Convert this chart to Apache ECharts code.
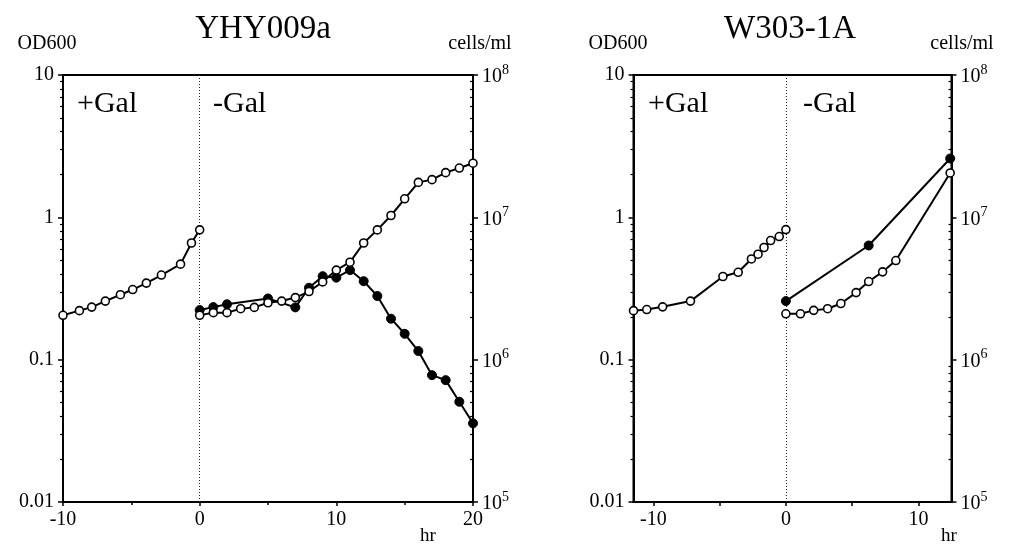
<!DOCTYPE html>
<html><head><meta charset="utf-8">
<script src="https://cdn.jsdelivr.net/npm/echarts@6/dist/echarts.min.js"></script>
<style>html,body{margin:0;padding:0;background:#fff}#c{width:1013px;height:544px}</style>
</head><body><div id="c"></div>
<script>
// ---- data: YHY009a ----
const yhyPreHr   = [-10, -8.8, -7.9, -6.9, -5.8, -4.9, -3.9, -2.8, -1.4, -0.6, 0];
const yhyPreOD   = [0.205, 0.221, 0.234, 0.258, 0.286, 0.311, 0.345, 0.393, 0.469, 0.66, 0.817];
const yhyOpenHr  = [0, 1, 2, 3, 4, 5, 6, 7, 8, 9, 10, 11, 12, 13, 14, 15, 16, 17, 18, 19, 20];
const yhyOpenOD  = [0.205, 0.214, 0.214, 0.228, 0.233, 0.251, 0.258, 0.273, 0.301, 0.352, 0.426, 0.484, 0.66, 0.816, 1.03, 1.35, 1.76, 1.84, 2.06, 2.22, 2.40];
const yhyFilledHr = [0, 1, 2, 5, 7, 8, 9, 10, 11, 12, 13, 14, 15, 16, 17, 18, 19, 20];
const yhyFilledOD = [0.223, 0.234, 0.245, 0.269, 0.233, 0.32, 0.386, 0.377, 0.426, 0.356, 0.28, 0.194, 0.152, 0.115, 0.0778, 0.0718, 0.0506, 0.0357];
// ---- data: W303-1A ----
const wPreHr    = [-11.5, -10.5, -9.3, -7.2, -4.75, -3.6, -2.6, -2.1, -1.65, -1.15, -0.5, 0];
const wPreOD    = [0.221, 0.225, 0.235, 0.258, 0.384, 0.411, 0.510, 0.551, 0.614, 0.687, 0.733, 0.82];
const wOpenHr   = [0, 1.1, 2.1, 3.15, 4.15, 5.3, 6.25, 7.3, 8.3, 12.4];
const wOpenOD   = [0.210, 0.210, 0.222, 0.228, 0.248, 0.296, 0.354, 0.414, 0.497, 2.05];
const wFilledHr = [0, 6.25, 12.4];
const wFilledOD = [0.258, 0.634, 2.59];
// ---- ticks ----
const odTicks  = [0.01, 0.1, 1, 10];
const odLabels = ['0.01', '0.1', '1', '10'];
const odMinor  = [0.02,0.03,0.04,0.05,0.06,0.07,0.08,0.09,0.2,0.3,0.4,0.5,0.6,0.7,0.8,0.9,2,3,4,5,6,7,8,9];
const cellTicks = [1e5, 1e6, 1e7, 1e8];
const cellExp   = ['5', '6', '7', '8'];
const yhyHrTicks = [-10, 0, 10, 20];
const wHrTicks   = [-10, 0, 10];
const wHrMinor   = [-10, -5, 0, 5, 10];
const shiftHr    = 0;

const FONT = 'Liberation Serif';
const zip = (a, b) => a.map((v, i) => [v, b[i]]);
const near = (arr, v) => arr.findIndex(t => Math.abs(Math.log10(t) - Math.log10(v)) < 1e-6);

function xAxisLeft() {
  return { type: 'value', gridIndex: 0, min: -10, max: 20, interval: 10,
    axisLine: { onZero: false, lineStyle: { color: '#000', width: 2 } },
    axisTick: { length: 4, lineStyle: { color: '#000', width: 1.5 } },
    minorTick: { show: true, splitNumber: 2, length: 3, lineStyle: { color: '#000', width: 1.5 } },
    axisLabel: { fontFamily: FONT, fontSize: 20, color: '#000', margin: 8,
      customValues: yhyHrTicks },
    splitLine: { show: false } };
}
function xAxisRight() {
  return { type: 'value', gridIndex: 1, min: -11.5, max: 12.5,
    axisLine: { onZero: false, lineStyle: { color: '#000', width: 2 } },
    axisTick: { length: 4, customValues: wHrMinor, lineStyle: { color: '#000', width: 1.5 } },
    axisLabel: { fontFamily: FONT, fontSize: 20, color: '#000', margin: 8, customValues: wHrTicks },
    splitLine: { show: false } };
}
function yAxes(g) {
  const base = { type: 'log', logBase: 10, gridIndex: g, splitLine: { show: false } };
  return [
    Object.assign({}, base, { position: 'left', min: 0.01, max: 10,
      axisLine: { show: true, onZero: false, lineStyle: { color: '#000', width: 2 } },
      axisTick: { show: true, length: 5, customValues: odTicks, lineStyle: { color: '#000', width: 1.5 } },
      axisLabel: { fontFamily: FONT, fontSize: 20, color: '#000', margin: 9, customValues: odTicks,
        formatter: v => odLabels[near(odTicks, v)] } }),
    Object.assign({}, base, { position: 'left', min: 0.01, max: 10,
      axisLine: { show: false, onZero: false },
      axisTick: { show: true, length: 3, customValues: odMinor, lineStyle: { color: '#000', width: 1.2 } },
      axisLabel: { show: false } }),
    Object.assign({}, base, { position: 'right', min: 1e5, max: 1e8,
      axisLine: { show: true, onZero: false, lineStyle: { color: '#000', width: 2 } },
      axisTick: { show: true, length: 5, customValues: cellTicks, lineStyle: { color: '#000', width: 1.5 } },
      axisLabel: { margin: 9, customValues: cellTicks,
        formatter: v => '{b|10}{s|' + cellExp[near(cellTicks, v)] + '}',
        rich: { b: { fontFamily: FONT, fontSize: 20, color: '#000', verticalAlign: 'bottom' },
                s: { fontFamily: FONT, fontSize: 14, color: '#000', verticalAlign: 'bottom', padding: [0, 0, 10, 0] } } } }),
    Object.assign({}, base, { position: 'right', min: 0.01, max: 10,
      axisLine: { show: false, onZero: false },
      axisTick: { show: true, inside: true, length: 3, customValues: odMinor, lineStyle: { color: '#000', width: 1.2 } },
      axisLabel: { show: false } })
  ];
}
function lineSeries(xi, yi, data, filled) {
  return { type: 'line', xAxisIndex: xi, yAxisIndex: yi, data: data, z: 3,
    symbol: 'circle', symbolSize: filled ? 9 : 8,
    lineStyle: { color: '#000', width: 2 },
    itemStyle: filled ? { color: '#000', borderColor: '#000', borderWidth: 1 }
                      : { color: '#fff', borderColor: '#000', borderWidth: 1.6 },
    silent: true, animation: false };
}
function shiftLine(xi, yi) {
  return { type: 'line', xAxisIndex: xi, yAxisIndex: yi, data: [], z: 1, silent: true,
    markLine: { silent: true, symbol: 'none', label: { show: false }, z: 1,
      lineStyle: { color: '#222', type: [1, 2], width: 1 }, data: [{ xAxis: shiftHr }] } };
}

function txt(text, x, y, size, align) {
  return { type: 'text', x: x, y: y, silent: true, style: { text: text, fill: '#000',
    font: size + 'px "' + FONT + '"', textAlign: align || 'center', align: align || 'center',
    textVerticalAlign: 'middle', verticalAlign: 'middle' } };
}

const chart = echarts.init(document.getElementById('c'), null, { renderer: 'canvas' });
chart.setOption({
  backgroundColor: '#fff',
  animation: false,
  grid: [
    { left: 63, top: 75, width: 410, height: 427, show: true, borderColor: '#000', borderWidth: 2 },
    { left: 633.5, top: 75, width: 318, height: 427, show: true, borderColor: '#000', borderWidth: 2 }
  ],
  xAxis: [xAxisLeft(), xAxisRight()],
  yAxis: yAxes(0).concat(yAxes(1)),
  series: [
    shiftLine(0, 0),
    lineSeries(0, 0, zip(yhyPreHr, yhyPreOD), false),
    lineSeries(0, 0, zip(yhyFilledHr, yhyFilledOD), true),
    lineSeries(0, 0, zip(yhyOpenHr, yhyOpenOD), false),
    shiftLine(1, 4),
    lineSeries(1, 4, zip(wPreHr, wPreOD), false),
    lineSeries(1, 4, zip(wFilledHr, wFilledOD), true),
    lineSeries(1, 4, zip(wOpenHr, wOpenOD), false)
  ],
  graphic: [
    txt('YHY009a', 263, 29, 33),
    txt('W303-1A', 790, 29, 33),
    txt('OD600', 47, 44, 20),
    txt('OD600', 618, 44, 20),
    txt('cells/ml', 480, 44, 20),
    txt('cells/ml', 962, 44, 20),
    txt('+Gal', 77, 104, 30, 'left'),
    txt('-Gal', 213, 104, 30, 'left'),
    txt('+Gal', 648, 104, 30, 'left'),
    txt('-Gal', 803, 104, 30, 'left'),
    txt('hr', 428, 536, 19),
    txt('hr', 949, 536, 19)
  ]
});
</script></body></html>
